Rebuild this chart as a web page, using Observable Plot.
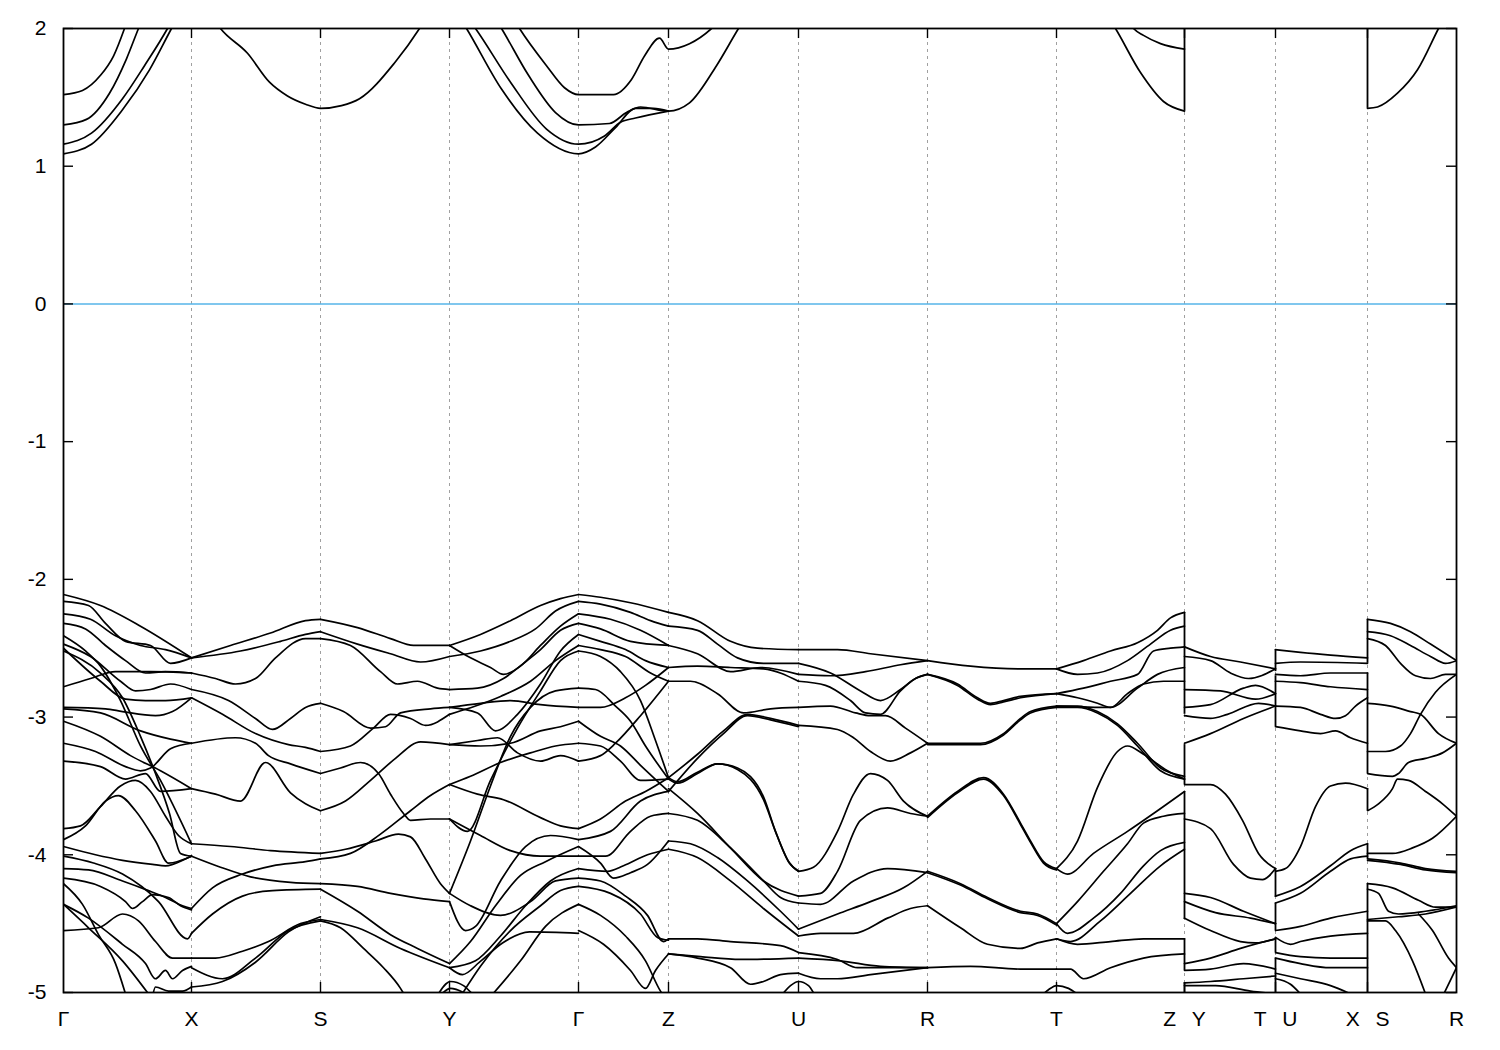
<!DOCTYPE html>
<html><head><meta charset="utf-8">
<script src="https://cdn.jsdelivr.net/npm/d3@7"></script>
<script src="https://cdn.jsdelivr.net/npm/@observablehq/plot@0.6"></script>
<style>body{margin:0;background:#fff}#chart svg{display:block}</style>
</head><body><div id="chart"></div>
<script>
// high-symmetry points: path distance (arbitrary units) and labels
const kTicks = [0,128,257,386,515,605,735,864,993,1121,1212,1304,1393];
const kLabels = ["Γ","X","S","Y","Γ","Z","U","R","T","Z\u2002\u2005Y","T\u2002\u2005U","X\u2002\u2005S","R"];
const yTicks = [2,1,0,-1,-2,-3,-4,-5];

// conduction bands [k, E(eV)]
const conduction = [
 [[0,1.52],[19,1.55],[37,1.66],[50,1.80],[61,2.0],[68,2.15]],
 [[0,1.30],[23,1.34],[46,1.53],[63,1.78],[75,2.0],[82,2.12]],
 [[0,1.16],[28,1.24],[59,1.49],[81,1.73],[104,2.0],[110,2.08]],
 [[0,1.09],[28,1.16],[59,1.41],[86,1.70],[108,2.0],[114,2.08]],
 [[150,2.07],[157,2.0],[184,1.82],[206,1.61],[224,1.51],[242,1.45],[257,1.42],[278,1.44],[296,1.49],[331,1.75],[356,2.0],[362,2.07]],
 [[397,2.07],[403,2.0],[438,1.56],[474,1.24],[515,1.09],[532,1.14],[552,1.28],[572,1.42],[590,1.42],[605,1.40]],
 [[405,2.07],[412,2.0],[447,1.61],[483,1.27],[515,1.16],[541,1.22],[557,1.32],[572,1.35],[605,1.40]],
 [[432,2.07],[438,2.0],[465,1.66],[492,1.39],[515,1.30],[546,1.31],[563,1.39],[577,1.43],[605,1.40],[626,1.46],[653,1.73],[675,2.0],[681,2.07]],
 [[450,2.07],[456,2.0],[483,1.73],[501,1.57],[515,1.52],[550,1.52],[568,1.63],[581,1.80],[596,1.93],[605,1.85],[626,1.89],[648,2.0],[655,2.05]],
 [[1046,2.07],[1052,2.0],[1077,1.68],[1100,1.47],[1121,1.40]],
 [[1063,2.07],[1070,2.0],[1080,1.95],[1097,1.89],[1121,1.85]],
 [[1304,1.42],[1314,1.43],[1334,1.53],[1354,1.70],[1375,2.0],[1380,2.07]]
];

// valence bands, segment by segment
const bandsGX = [
 [[0,-2.11],[37,-2.19],[77,-2.34],[128,-2.57]],
 [[0,-2.16],[25,-2.19],[42,-2.32],[62,-2.45],[87,-2.48],[107,-2.61],[128,-2.57]],
 [[0,-2.25],[27,-2.29],[52,-2.41],[77,-2.48],[102,-2.51],[128,-2.57]],
 [[0,-2.32],[22,-2.36],[42,-2.48],[62,-2.59],[82,-2.68],[102,-2.67],[128,-2.68]],
 [[0,-2.78],[27,-2.72],[52,-2.67],[87,-2.67],[128,-2.68]],
 [[0,-2.47],[27,-2.56],[57,-2.74],[72,-2.81],[87,-2.80],[107,-2.76],[128,-2.80]],
 [[0,-2.41],[22,-2.52],[37,-2.63],[57,-2.88],[77,-3.21],[97,-3.46],[128,-3.92]],
 [[0,-2.52],[37,-2.68],[59,-2.86],[77,-3.14],[92,-3.41],[106,-3.70],[117,-3.99],[128,-4.01]],
 [[0,-2.50],[37,-2.74],[62,-2.87],[82,-2.88],[102,-2.88],[128,-2.86]],
 [[0,-2.93],[42,-2.94],[59,-2.96],[92,-2.99],[109,-2.96],[128,-2.86]],
 [[0,-2.94],[37,-2.97],[77,-3.10],[107,-3.16],[128,-3.19]],
 [[0,-3.03],[37,-3.14],[67,-3.28],[97,-3.39],[128,-3.52]],
 [[0,-3.19],[32,-3.25],[62,-3.36],[77,-3.39],[87,-3.37],[107,-3.23],[128,-3.19]],
 [[0,-3.32],[37,-3.36],[62,-3.45],[82,-3.41],[97,-3.54],[128,-3.52]],
 [[0,-3.81],[17,-3.79],[37,-3.65],[57,-3.50],[72,-3.46],[87,-3.54],[102,-3.72],[115,-3.86],[128,-3.92]],
 [[0,-3.89],[22,-3.79],[42,-3.61],[55,-3.57],[72,-3.68],[92,-3.90],[105,-4.06],[128,-4.01]],
 [[0,-3.94],[32,-4.00],[59,-4.04],[89,-4.07],[102,-4.08],[122,-4.03],[128,-4.01]],
 [[0,-4.01],[30,-4.06],[59,-4.14],[95,-4.34],[124,-4.61],[128,-4.57]],
 [[0,-4.10],[25,-4.11],[59,-4.19],[85,-4.26],[102,-4.31],[119,-4.37],[128,-4.39]],
 [[0,-4.17],[37,-4.23],[62,-4.34],[69,-4.39],[79,-4.34],[89,-4.29],[105,-4.31],[117,-4.37],[128,-4.40]],
 [[0,-4.21],[19,-4.36],[35,-4.58],[52,-4.79],[62,-5.01]],
 [[0,-4.36],[25,-4.46],[59,-4.65],[82,-4.79],[92,-4.90],[102,-4.84],[109,-4.90],[119,-4.84],[128,-4.81]],
 [[0,-4.55],[35,-4.53],[59,-4.43],[75,-4.48],[92,-4.63],[109,-4.75],[128,-4.75]],
 [[0,-4.36],[25,-4.53],[59,-4.77],[85,-5.01]],
 [[89,-5.03],[92,-4.96],[105,-4.99],[119,-4.99],[128,-4.96]]
];
const bandsXS = [
 [[128,-2.57],[167,-2.48],[207,-2.39],[242,-2.30],[257,-2.29]],
 [[128,-2.57],[177,-2.52],[217,-2.45],[242,-2.40],[257,-2.38]],
 [[128,-2.68],[152,-2.72],[172,-2.76],[192,-2.72],[212,-2.57],[242,-2.43],[257,-2.43]],
 [[128,-2.80],[165,-2.88],[192,-3.01],[209,-3.09],[227,-3.01],[242,-2.93],[257,-2.90]],
 [[128,-2.86],[159,-2.98],[192,-3.12],[225,-3.20],[242,-3.22],[257,-3.25]],
 [[128,-3.19],[172,-3.15],[192,-3.19],[205,-3.28],[227,-3.34],[257,-3.41]],
 [[128,-3.52],[152,-3.56],[177,-3.61],[202,-3.33],[227,-3.55],[257,-3.68]],
 [[128,-3.92],[167,-3.94],[207,-3.97],[257,-3.99]],
 [[128,-4.01],[157,-4.09],[187,-4.16],[227,-4.20],[257,-4.21]],
 [[128,-4.39],[149,-4.24],[179,-4.14],[209,-4.08],[242,-4.05],[257,-4.03]],
 [[128,-4.57],[149,-4.43],[179,-4.30],[209,-4.26],[257,-4.25]],
 [[128,-4.75],[152,-4.75],[179,-4.70],[205,-4.63],[237,-4.50],[257,-4.47]],
 [[128,-4.82],[159,-4.90],[192,-4.75],[225,-4.55],[257,-4.48]],
 [[128,-4.96],[159,-4.92],[192,-4.78],[225,-4.56],[257,-4.45]]
];
const bandsSY = [
 [[257,-2.29],[294,-2.35],[327,-2.43],[350,-2.48],[386,-2.48]],
 [[257,-2.38],[294,-2.47],[327,-2.54],[357,-2.60],[386,-2.56]],
 [[257,-2.43],[287,-2.48],[317,-2.67],[334,-2.76],[354,-2.74],[374,-2.79],[386,-2.80]],
 [[257,-2.90],[280,-2.96],[307,-3.08],[322,-3.07],[337,-2.97],[367,-2.94],[386,-2.93]],
 [[257,-3.25],[287,-3.21],[310,-3.08],[327,-2.98],[347,-3.01],[362,-3.06],[386,-2.98]],
 [[257,-3.41],[277,-3.37],[297,-3.33],[315,-3.41],[327,-3.56],[340,-3.70],[347,-3.75],[367,-3.74],[386,-3.74]],
 [[257,-3.68],[282,-3.61],[307,-3.46],[332,-3.30],[357,-3.18],[386,-3.20]],
 [[257,-3.99],[282,-3.96],[312,-3.90],[335,-3.85],[347,-3.87],[362,-4.03],[377,-4.21],[386,-4.28]],
 [[257,-4.03],[287,-3.99],[317,-3.85],[347,-3.68],[367,-3.57],[386,-3.49]],
 [[257,-4.21],[294,-4.23],[327,-4.28],[360,-4.32],[386,-4.34]],
 [[257,-4.25],[294,-4.41],[327,-4.58],[354,-4.68],[386,-4.79]],
 [[257,-4.47],[294,-4.53],[337,-4.68],[386,-4.82]],
 [[257,-4.48],[277,-4.53],[300,-4.68],[320,-4.82],[337,-4.97],[342,-5.03]],
 [[374,-5.02],[387,-4.92],[400,-4.95],[410,-5.02]],
 [[377,-5.02],[387,-4.97],[405,-5.02]]
];
const bandsYG = [
 [[386,-2.48],[417,-2.40],[447,-2.30],[477,-2.19],[497,-2.14],[515,-2.11]],
 [[386,-2.56],[417,-2.52],[447,-2.45],[472,-2.36],[492,-2.23],[515,-2.16]],
 [[386,-2.48],[407,-2.57],[427,-2.64],[440,-2.69],[457,-2.63],[477,-2.48],[497,-2.34],[515,-2.25]],
 [[386,-2.80],[414,-2.79],[440,-2.72],[460,-2.61],[477,-2.51],[497,-2.37],[515,-2.32]],
 [[386,-2.93],[414,-2.97],[432,-3.10],[454,-2.98],[477,-2.76],[497,-2.52],[515,-2.40]],
 [[386,-2.98],[412,-2.92],[437,-2.85],[467,-2.74],[492,-2.59],[515,-2.48]],
 [[386,-3.20],[414,-3.17],[434,-3.15],[454,-3.26],[477,-3.32],[497,-3.28],[515,-3.32]],
 [[386,-3.74],[404,-3.83],[427,-3.46],[454,-3.08],[477,-2.81],[497,-2.59],[515,-2.52]],
 [[386,-3.49],[414,-3.56],[440,-3.60],[477,-3.73],[497,-3.79],[515,-3.81]],
 [[386,-4.28],[407,-3.90],[427,-3.50],[447,-3.14],[467,-2.93],[492,-2.81],[515,-2.79]],
 [[386,-4.34],[402,-4.55],[412,-4.52],[437,-4.19],[462,-3.94],[487,-3.86],[515,-3.89]],
 [[386,-4.79],[407,-4.63],[432,-4.37],[457,-4.15],[482,-4.05],[515,-3.94]],
 [[386,-4.82],[412,-4.77],[437,-4.59],[462,-4.37],[487,-4.19],[515,-4.10]],
 [[386,-4.28],[407,-4.37],[437,-4.44],[467,-4.34],[492,-4.19],[515,-4.17]],
 [[397,-5.03],[417,-4.81],[447,-4.55],[477,-4.37],[497,-4.26],[515,-4.23]],
 [[427,-5.03],[457,-4.77],[482,-4.52],[515,-4.36]],
 [[386,-4.82],[399,-4.87],[416,-4.78],[439,-4.64],[466,-4.56],[515,-4.57]],
 [[386,-3.20],[417,-3.21],[447,-3.19],[477,-3.10],[497,-3.07],[515,-3.03]],
 [[386,-3.49],[407,-3.43],[437,-3.33],[467,-3.26],[492,-3.21],[515,-3.19]],
 [[386,-2.93],[417,-2.90],[447,-2.88],[477,-2.91],[515,-2.93]],
 [[386,-3.74],[417,-3.86],[447,-3.97],[477,-4.01],[515,-4.01]]
];
const bandsGZ = [
 [[515,-2.11],[537,-2.13],[567,-2.17],[605,-2.24]],
 [[515,-2.16],[537,-2.18],[567,-2.24],[587,-2.30],[605,-2.34]],
 [[515,-2.25],[547,-2.29],[577,-2.37],[605,-2.48]],
 [[515,-2.32],[537,-2.36],[567,-2.45],[605,-2.48]],
 [[515,-2.40],[537,-2.45],[562,-2.51],[582,-2.59],[605,-2.64]],
 [[515,-2.48],[537,-2.51],[562,-2.56],[587,-2.68],[605,-2.74]],
 [[515,-2.52],[537,-2.56],[557,-2.67],[577,-2.88],[592,-3.17],[605,-3.44]],
 [[515,-2.79],[532,-2.80],[552,-2.92],[567,-3.03],[582,-3.21],[605,-3.45]],
 [[515,-2.93],[537,-2.93],[562,-2.86],[582,-2.77],[605,-2.64]],
 [[515,-3.03],[537,-3.14],[557,-3.21],[577,-3.35],[605,-3.54]],
 [[515,-3.19],[537,-3.21],[557,-3.32],[577,-3.46],[605,-3.45]],
 [[515,-3.32],[537,-3.28],[552,-3.19],[577,-2.99],[605,-2.74]],
 [[515,-3.81],[537,-3.74],[562,-3.61],[582,-3.54],[605,-3.44]],
 [[515,-3.89],[547,-3.83],[577,-3.61],[605,-3.54]],
 [[515,-3.94],[537,-4.06],[550,-4.17],[567,-4.13],[584,-4.07],[605,-3.90]],
 [[515,-4.01],[542,-4.01],[567,-3.83],[587,-3.72],[605,-3.70]],
 [[515,-4.10],[544,-4.12],[560,-4.08],[584,-4.00],[605,-3.96]],
 [[515,-4.17],[537,-4.19],[562,-4.30],[584,-4.44],[600,-4.63],[605,-4.61]],
 [[515,-4.23],[547,-4.28],[577,-4.43],[594,-4.60],[605,-4.62]],
 [[515,-4.36],[537,-4.44],[562,-4.59],[582,-4.77],[597,-4.99],[602,-5.04]],
 [[515,-4.55],[540,-4.65],[567,-4.84],[582,-4.97],[592,-4.84],[605,-4.72]]
];
const bandsZU = [
 [[605,-2.24],[634,-2.30],[667,-2.45],[694,-2.50],[735,-2.51]],
 [[605,-2.34],[634,-2.37],[654,-2.47],[674,-2.57],[700,-2.61],[735,-2.61]],
 [[605,-2.48],[634,-2.54],[667,-2.67],[697,-2.64],[735,-2.69]],
 [[605,-2.64],[634,-2.63],[667,-2.64],[700,-2.65],[735,-2.74]],
 [[605,-2.74],[627,-2.74],[654,-2.83],[680,-2.97],[707,-2.94],[735,-2.93]],
 [[605,-3.45],[614,-3.48],[634,-3.41],[654,-3.34],[674,-3.37],[700,-3.58],[712,-3.83],[725,-4.05],[735,-4.12]],
 [[605,-3.44],[614,-3.47],[634,-3.40],[654,-3.34],[674,-3.38],[700,-3.60],[713,-3.85],[726,-4.06],[735,-4.12]],
 [[605,-3.44],[634,-3.27],[660,-3.10],[684,-2.98],[707,-3.01],[735,-3.06]],
 [[605,-3.54],[634,-3.30],[660,-3.12],[684,-2.99],[707,-3.02],[735,-3.07]],
 [[605,-3.52],[634,-3.70],[667,-3.95],[700,-4.19],[735,-4.30]],
 [[605,-3.70],[634,-3.75],[667,-3.95],[700,-4.19],[717,-4.31],[735,-4.35]],
 [[605,-3.90],[627,-3.92],[654,-4.02],[684,-4.19],[717,-4.41],[735,-4.54]],
 [[605,-3.96],[634,-4.02],[667,-4.19],[700,-4.39],[735,-4.59]],
 [[605,-4.61],[634,-4.61],[667,-4.63],[717,-4.66],[735,-4.71]],
 [[605,-4.72],[634,-4.75],[667,-4.82],[687,-4.94],[700,-4.92],[717,-4.87],[735,-4.86]],
 [[605,-4.72],[637,-4.74],[677,-4.76],[735,-4.75]],
 [[717,-5.03],[727,-4.95],[735,-4.92],[745,-4.95],[752,-5.03]]
];
const bandsUR = [
 [[735,-2.51],[774,-2.51],[807,-2.54],[864,-2.59]],
 [[735,-2.61],[767,-2.68],[797,-2.81],[817,-2.88],[837,-2.80],[852,-2.72],[864,-2.69]],
 [[735,-2.69],[767,-2.70],[802,-2.67],[837,-2.62],[864,-2.59]],
 [[735,-2.74],[762,-2.77],[787,-2.88],[802,-2.97],[817,-2.98],[837,-2.81],[852,-2.72],[864,-2.69]],
 [[735,-2.93],[767,-2.92],[792,-2.97],[807,-2.99],[822,-2.99],[842,-3.08],[864,-3.19]],
 [[735,-3.06],[774,-3.09],[790,-3.15],[807,-3.25],[827,-3.32],[847,-3.26],[864,-3.19]],
 [[735,-4.12],[750,-4.09],[774,-3.83],[790,-3.56],[807,-3.41],[824,-3.46],[840,-3.61],[864,-3.72]],
 [[735,-4.30],[757,-4.28],[774,-4.12],[797,-3.75],[824,-3.66],[847,-3.70],[864,-3.72]],
 [[735,-4.35],[757,-4.36],[790,-4.19],[824,-4.10],[864,-4.13]],
 [[735,-4.54],[774,-4.43],[807,-4.34],[840,-4.24],[864,-4.12]],
 [[735,-4.59],[757,-4.57],[790,-4.57],[824,-4.46],[847,-4.39],[864,-4.37]],
 [[735,-4.71],[774,-4.76],[794,-4.82],[840,-4.82],[864,-4.82]],
 [[735,-4.75],[777,-4.77],[817,-4.81],[864,-4.82]],
 [[735,-4.86],[757,-4.90],[774,-4.90],[807,-4.87],[864,-4.82]]
];
const bandsRT = [
 [[864,-2.59],[907,-2.63],[957,-2.65],[993,-2.65]],
 [[864,-2.69],[894,-2.76],[914,-2.86],[927,-2.90],[940,-2.88],[957,-2.85],[993,-2.83]],
 [[864,-2.69],[894,-2.77],[914,-2.87],[927,-2.91],[940,-2.89],[957,-2.86],[993,-2.83]],
 [[864,-3.19],[917,-3.19],[940,-3.12],[957,-3.01],[967,-2.96],[993,-2.92]],
 [[864,-3.20],[917,-3.20],[940,-3.13],[957,-3.02],[967,-2.97],[993,-2.93]],
 [[864,-3.72],[894,-3.54],[920,-3.44],[940,-3.56],[957,-3.77],[967,-3.90],[980,-4.05],[993,-4.10]],
 [[864,-3.73],[894,-3.55],[920,-3.45],[940,-3.57],[957,-3.78],[967,-3.91],[980,-4.06],[993,-4.11]],
 [[864,-4.12],[897,-4.21],[924,-4.31],[957,-4.41],[974,-4.43],[993,-4.50]],
 [[864,-4.13],[897,-4.22],[924,-4.32],[957,-4.42],[974,-4.44],[993,-4.51]],
 [[864,-4.37],[897,-4.53],[924,-4.65],[957,-4.68],[974,-4.64],[993,-4.61]],
 [[864,-4.82],[907,-4.81],[957,-4.83],[993,-4.83]],
 [[977,-5.03],[985,-4.98],[993,-4.95],[1005,-4.97],[1017,-5.03]]
];
const bandsTZ = [
 [[993,-2.65],[1020,-2.59],[1047,-2.52],[1074,-2.46],[1094,-2.37],[1107,-2.28],[1121,-2.24]],
 [[993,-2.65],[1014,-2.69],[1034,-2.68],[1064,-2.59],[1087,-2.47],[1107,-2.37],[1121,-2.34]],
 [[993,-2.83],[1020,-2.79],[1047,-2.74],[1074,-2.69],[1090,-2.52],[1107,-2.50],[1121,-2.49]],
 [[993,-2.83],[1014,-2.86],[1034,-2.90],[1047,-2.93],[1074,-2.79],[1094,-2.69],[1121,-2.64]],
 [[993,-2.92],[1014,-2.92],[1034,-2.96],[1054,-3.05],[1074,-3.19],[1097,-3.37],[1121,-3.43]],
 [[993,-2.93],[1014,-2.93],[1034,-2.97],[1054,-3.06],[1074,-3.21],[1097,-3.39],[1121,-3.45]],
 [[993,-2.92],[1047,-2.93],[1064,-2.83],[1080,-2.76],[1100,-2.74],[1121,-2.74]],
 [[993,-4.10],[1014,-3.90],[1034,-3.51],[1054,-3.25],[1064,-3.21],[1080,-3.27],[1104,-3.39],[1121,-3.45]],
 [[993,-4.10],[1004,-4.14],[1030,-3.99],[1064,-3.83],[1090,-3.70],[1121,-3.54]],
 [[993,-4.50],[1014,-4.34],[1040,-4.12],[1064,-3.92],[1080,-3.77],[1100,-3.72],[1121,-3.70]],
 [[993,-4.50],[1004,-4.57],[1030,-4.46],[1057,-4.28],[1080,-4.08],[1097,-3.97],[1121,-3.91]],
 [[993,-4.61],[1014,-4.65],[1047,-4.63],[1080,-4.61],[1121,-4.61]],
 [[993,-4.61],[1007,-4.63],[1037,-4.48],[1067,-4.28],[1097,-4.08],[1121,-3.96]],
 [[993,-4.83],[1007,-4.83],[1020,-4.90],[1047,-4.82],[1080,-4.75],[1121,-4.72]]
];
const bandsYT = [
 [[1121,-2.49],[1147,-2.56],[1177,-2.60],[1212,-2.65]],
 [[1121,-2.56],[1147,-2.59],[1167,-2.68],[1185,-2.72],[1212,-2.65]],
 [[1121,-2.80],[1157,-2.81],[1192,-2.87],[1212,-2.83]],
 [[1121,-2.93],[1147,-2.91],[1180,-2.79],[1192,-2.77],[1212,-2.83]],
 [[1121,-2.99],[1147,-3.01],[1164,-2.98],[1195,-2.90],[1212,-2.92]],
 [[1121,-3.19],[1147,-3.12],[1180,-3.01],[1212,-2.92]],
 [[1121,-3.49],[1147,-3.49],[1162,-3.56],[1179,-3.75],[1195,-3.99],[1212,-4.10]],
 [[1121,-3.74],[1147,-3.81],[1170,-4.07],[1187,-4.17],[1199,-4.18],[1212,-4.10]],
 [[1121,-4.28],[1147,-4.31],[1180,-4.41],[1212,-4.50]],
 [[1121,-4.34],[1152,-4.42],[1187,-4.46],[1212,-4.50]],
 [[1121,-4.46],[1147,-4.55],[1177,-4.63],[1192,-4.64],[1212,-4.61]],
 [[1121,-4.79],[1147,-4.75],[1177,-4.68],[1212,-4.61]],
 [[1121,-4.84],[1147,-4.83],[1180,-4.79],[1212,-4.83]],
 [[1121,-4.93],[1147,-4.92],[1180,-4.90],[1212,-4.88]],
 [[1121,-4.95],[1152,-4.95],[1187,-4.99],[1212,-5.01]]
];
const bandsUX = [
 [[1212,-2.51],[1237,-2.53],[1267,-2.55],[1304,-2.57]],
 [[1212,-2.61],[1237,-2.60],[1304,-2.61]],
 [[1212,-2.69],[1237,-2.70],[1267,-2.68],[1304,-2.68]],
 [[1212,-2.74],[1237,-2.75],[1267,-2.78],[1304,-2.80]],
 [[1212,-2.92],[1237,-2.93],[1257,-2.98],[1272,-3.01],[1282,-2.99],[1292,-2.92],[1304,-2.86]],
 [[1212,-3.07],[1237,-3.10],[1257,-3.12],[1272,-3.10],[1287,-3.15],[1304,-3.19]],
 [[1212,-4.12],[1222,-4.10],[1237,-3.94],[1252,-3.65],[1267,-3.50],[1282,-3.48],[1304,-3.52]],
 [[1212,-4.30],[1237,-4.23],[1267,-4.08],[1287,-3.97],[1304,-3.92]],
 [[1212,-4.35],[1237,-4.28],[1267,-4.12],[1287,-4.03],[1304,-4.01]],
 [[1212,-4.55],[1237,-4.52],[1267,-4.46],[1304,-4.41]],
 [[1212,-4.60],[1227,-4.65],[1237,-4.63],[1267,-4.59],[1304,-4.57]],
 [[1212,-4.71],[1237,-4.74],[1267,-4.75],[1304,-4.75]],
 [[1212,-4.75],[1237,-4.79],[1267,-4.82],[1304,-4.82]],
 [[1212,-4.86],[1237,-4.90],[1267,-4.95],[1287,-5.01]],
 [[1212,-4.90],[1227,-4.94],[1237,-5.01]]
];
const bandsSR = [
 [[1304,-2.29],[1327,-2.32],[1347,-2.38],[1367,-2.47],[1393,-2.59]],
 [[1304,-2.38],[1327,-2.41],[1347,-2.48],[1367,-2.56],[1382,-2.61],[1393,-2.59]],
 [[1304,-2.43],[1322,-2.48],[1337,-2.61],[1352,-2.70],[1367,-2.72],[1382,-2.69],[1393,-2.69]],
 [[1304,-2.90],[1327,-2.92],[1347,-2.96],[1357,-2.98],[1375,-3.12],[1393,-3.19]],
 [[1304,-3.25],[1322,-3.25],[1337,-3.21],[1347,-3.12],[1357,-2.98],[1372,-2.82],[1393,-2.69]],
 [[1304,-3.41],[1329,-3.43],[1335,-3.41],[1345,-3.33],[1362,-3.30],[1379,-3.26],[1393,-3.19]],
 [[1304,-3.68],[1315,-3.63],[1329,-3.52],[1334,-3.45],[1345,-3.46],[1362,-3.54],[1379,-3.63],[1393,-3.72]],
 [[1304,-3.99],[1329,-3.99],[1349,-3.95],[1369,-3.88],[1393,-3.72]],
 [[1304,-4.03],[1337,-4.06],[1362,-4.10],[1393,-4.12]],
 [[1304,-4.04],[1337,-4.07],[1362,-4.11],[1393,-4.13]],
 [[1304,-4.21],[1329,-4.24],[1355,-4.33],[1372,-4.38],[1393,-4.38]],
 [[1304,-4.25],[1315,-4.28],[1325,-4.41],[1335,-4.43],[1362,-4.41],[1393,-4.37]],
 [[1304,-4.47],[1335,-4.45],[1362,-4.43],[1393,-4.38]],
 [[1304,-4.48],[1322,-4.48],[1332,-4.55],[1349,-4.77],[1362,-5.01]],
 [[1355,-4.43],[1369,-4.55],[1385,-4.75],[1393,-4.82]],
 [[1379,-5.03],[1393,-4.82]]
];
// vertical band jumps at path discontinuities [k, E1, E2]
const jumps = [
 [1121,1.40,2.0],[1304,1.42,2.0],
 [1121,-2.24,-2.98],[1121,-3.20,-3.49],[1121,-3.54,-4.47],[1121,-4.61,-4.84],[1121,-4.93,-5.0],
 [1212,-2.51,-2.67],[1212,-2.70,-2.92],[1212,-2.92,-3.07],[1212,-4.10,-4.31],[1212,-4.35,-4.55],[1212,-4.60,-4.71],[1212,-4.75,-5.0],
 [1304,-2.29,-2.61],[1304,-2.68,-3.41],[1304,-3.52,-3.68],[1304,-3.92,-4.03],[1304,-4.21,-5.0]
];

const groups = [conduction,bandsGX,bandsXS,bandsSY,bandsYG,bandsGZ,bandsZU,bandsUR,bandsRT,bandsTZ,bandsYT,bandsUX,bandsSR];
const rows = [];
let id = 0;
for (const g of groups) for (const line of g) { id++; for (const [k, E] of line) rows.push({id, k, E}); }
const labelOf = new Map(kTicks.map((k, i) => [k, kLabels[i]]));
const inner = kTicks.slice(1, -1);

const chart = Plot.plot({
  width: 1500, height: 1050,
  marginLeft: 63, marginRight: 44, marginTop: 28, marginBottom: 58,
  style: {fontFamily: "'Liberation Sans', Arial, sans-serif", fontSize: "21px", background: "#fff", color: "#000"},
  x: {domain: [0, 1393], label: null},
  y: {domain: [-5, 2], label: null},
  marks: [
    Plot.ruleX(inner, {stroke: "#a0a0a0", strokeDasharray: "3,4", strokeWidth: 1}),
    Plot.ruleY([0], {stroke: "#56b4e9", strokeWidth: 1.6}),
    Plot.line(rows, {x: "k", y: "E", z: "id", stroke: "#000", strokeWidth: 1.7, curve: "monotone-x", clip: true}),
    Plot.ruleX(jumps, {x: d => d[0], y1: d => d[1], y2: d => d[2], stroke: "#000", strokeWidth: 1.8, clip: true}),
    Plot.ruleX(inner, {y1: -5, y2: -4.927, stroke: "#000", strokeWidth: 1.4}),
    Plot.ruleX(inner, {y1: 1.927, y2: 2, stroke: "#000", strokeWidth: 1.4}),
    Plot.ruleY(yTicks, {x1: 0, x2: 10, stroke: "#000", strokeWidth: 1.4}),
    Plot.ruleY(yTicks, {x1: 1383, x2: 1393, stroke: "#000", strokeWidth: 1.4}),
    Plot.frame({stroke: "#000", strokeWidth: 1.8}),
    Plot.axisX({ticks: kTicks, tickFormat: d => labelOf.get(d), tickSize: 0, tickPadding: 19, fontSize: 21, label: null}),
    Plot.axisY({ticks: yTicks, tickFormat: d => String(d), tickSize: 0, tickPadding: 17, fontSize: 21, label: null})
  ]
});
document.getElementById("chart").append(chart);
</script>
</body></html>
